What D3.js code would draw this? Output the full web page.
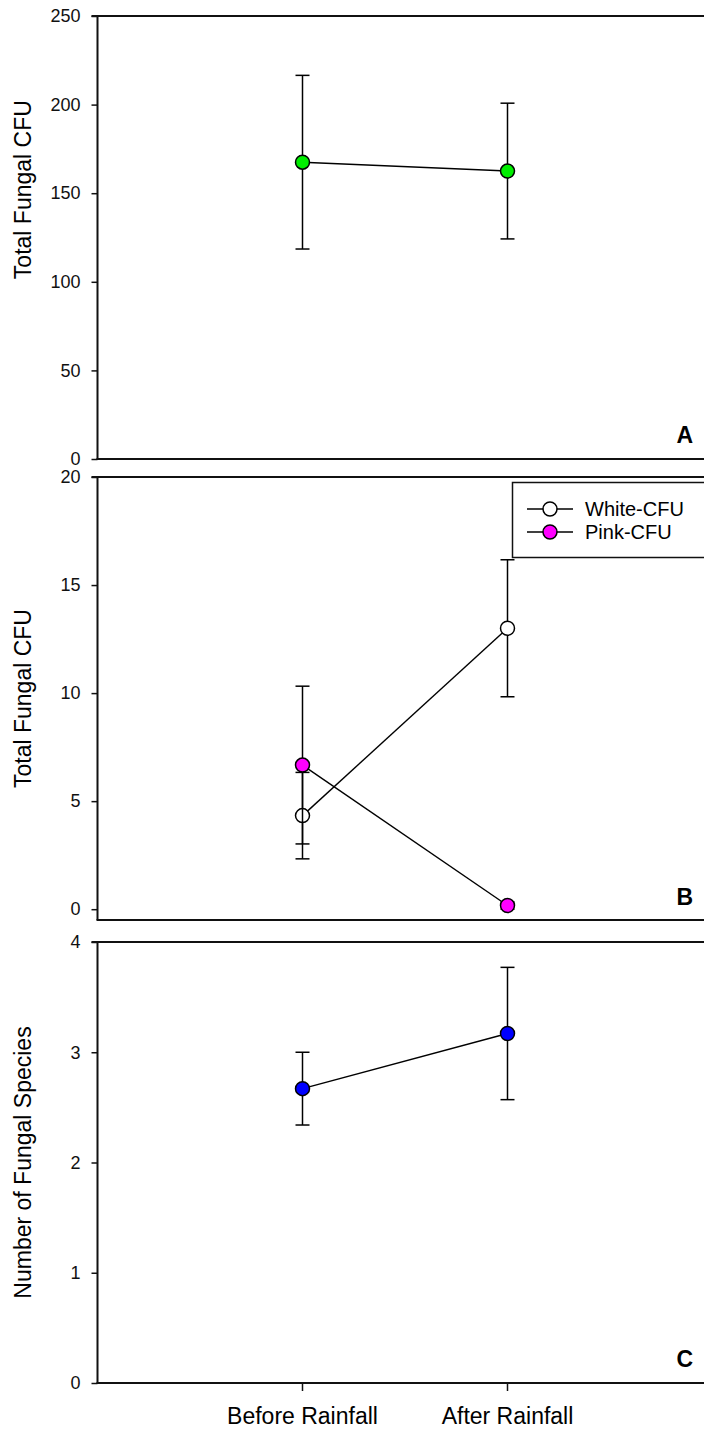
<!DOCTYPE html>
<html>
<head>
<meta charset="utf-8">
<script src="https://cdn.jsdelivr.net/npm/d3@7"></script>
<style>
  html, body { margin: 0; padding: 0; background: #fff; }
  svg { display: block; font-family: Arial, "Liberation Sans", sans-serif; }
</style>
</head>
<body>
<svg id="chart" width="704" height="1429"></svg>
<script>
// Fungal colony counts and species richness before and after a rainfall event
const categories = ["Before Rainfall", "After Rainfall"];

const totalCfuMean = [167.5, 162.5];
const totalCfuSe   = [49.0, 38.3];

const whiteCfuMean = [4.33, 13.0];
const whiteCfuSe   = [2.0, 3.17];
const pinkCfuMean  = [6.67, 0.17];
const pinkCfuSe    = [3.65, 0.17];

const speciesMean  = [2.67, 3.17];
const speciesSe    = [0.33, 0.6];

const ticksA = [0, 50, 100, 150, 200, 250];
const ticksB = [0, 5, 10, 15, 20];
const ticksC = [0, 1, 2, 3, 4];

const legendLabels = ["White-CFU", "Pink-CFU"];

const svg = d3.select("#chart");
const W = 704;

// shared category axis: categories sit at positions 1 and 2 of a 0..3 span
const x = d3.scaleLinear().domain([0, 3]).range([97.5, 712.5]);
const xPos = i => x(i + 1);

function panel(cfg) {
  const y = d3.scaleLinear().domain(cfg.domain).range(cfg.range);
  const g = svg.append("g");

  // left axis with outward ticks
  const ax = g.append("g")
    .attr("transform", `translate(${x(0)},0)`)
    .call(d3.axisLeft(y).tickValues(cfg.ticks).tickSize(6).tickPadding(11).tickFormat(d3.format("d")));
  ax.select(".domain").remove();
  ax.selectAll(".tick line").attr("stroke", "#111").attr("stroke-width", 1.5);
  ax.selectAll(".tick text").attr("font-size", 18).attr("fill", "#111")
    .attr("font-family", "Arial, 'Liberation Sans', sans-serif");

  const top = cfg.range[1], bottom = cfg.range[0];
  // frame: left spine, top line, bottom axis line
  g.append("line").attr("x1", x(0)).attr("x2", x(0)).attr("y1", top).attr("y2", bottom)
    .attr("stroke", "#111").attr("stroke-width", 2);
  g.append("line").attr("x1", x(0) - 6).attr("x2", W).attr("y1", top).attr("y2", top)
    .attr("stroke", "#111").attr("stroke-width", 2);
  g.append("line").attr("x1", x(0) - 1).attr("x2", W).attr("y1", bottom).attr("y2", bottom)
    .attr("stroke", "#111").attr("stroke-width", 2);

  // y axis title, centred on the given data value
  g.append("text")
    .attr("transform", `translate(31,${y(cfg.titleAt)}) rotate(-90)`)
    .attr("text-anchor", "middle")
    .attr("font-size", 23)
    .attr("fill", "#000")
    .text(cfg.title);

  // panel letter
  g.append("text")
    .attr("x", 693).attr("y", cfg.letterY)
    .attr("text-anchor", "end")
    .attr("font-size", 23).attr("font-weight", "bold")
    .attr("fill", "#000")
    .text(cfg.letter);

  cfg.series.forEach(s => {
    const pts = s.mean.map((m, i) => ({ i, m, se: s.se[i] }));
    // connecting line
    g.append("path")
      .datum(pts)
      .attr("fill", "none").attr("stroke", "#000").attr("stroke-width", 1.4)
      .attr("d", d3.line().x(d => xPos(d.i)).y(d => y(d.m)));
    // error bars with caps
    const eb = g.selectAll(null).data(pts).enter().append("g");
    eb.append("line")
      .attr("x1", d => xPos(d.i)).attr("x2", d => xPos(d.i))
      .attr("y1", d => y(d.m - d.se)).attr("y2", d => y(d.m + d.se))
      .attr("stroke", "#000").attr("stroke-width", 1.5);
    [-1, 1].forEach(sgn => {
      eb.append("line")
        .attr("x1", d => xPos(d.i) - 7).attr("x2", d => xPos(d.i) + 7)
        .attr("y1", d => y(d.m + sgn * d.se)).attr("y2", d => y(d.m + sgn * d.se))
        .attr("stroke", "#000").attr("stroke-width", 1.5);
    });
    // markers
    g.selectAll(null).data(pts).enter().append("circle")
      .attr("cx", d => xPos(d.i)).attr("cy", d => y(d.m)).attr("r", 7)
      .attr("fill", s.color).attr("stroke", "#000").attr("stroke-width", 1.5);
  });

  return { g, y };
}

panel({
  domain: [0, 250], range: [459, 16], ticks: ticksA, titleAt: 152,
  title: "Total Fungal CFU", letter: "A", letterY: 443,
  series: [{ mean: totalCfuMean, se: totalCfuSe, color: "#00ee00" }]
});

const pB = panel({
  domain: [-0.5, 20], range: [920, 477], ticks: ticksB, titleAt: 9.75,
  title: "Total Fungal CFU", letter: "B", letterY: 905,
  series: [
    { mean: whiteCfuMean, se: whiteCfuSe, color: "#ffffff" },
    { mean: pinkCfuMean, se: pinkCfuSe, color: "#ff00ff" }
  ]
});

const pC = panel({
  domain: [0, 4], range: [1383, 942], ticks: ticksC, titleAt: 2,
  title: "Number of Fungal Species", letter: "C", letterY: 1367,
  series: [{ mean: speciesMean, se: speciesSe, color: "#0000ff" }]
});

// category ticks and labels under the bottom panel
const xa = svg.append("g").attr("transform", "translate(0,1383)");
categories.forEach((c, i) => {
  xa.append("line").attr("x1", xPos(i)).attr("x2", xPos(i)).attr("y1", 0).attr("y2", 8)
    .attr("stroke", "#111").attr("stroke-width", 1.5);
  xa.append("text").attr("x", xPos(i)).attr("y", 41)
    .attr("text-anchor", "middle").attr("font-size", 23).attr("fill", "#000")
    .text(c);
});

// legend for panel B
const legendColors = ["#ffffff", "#ff00ff"];
const lg = pB.g.append("g");
lg.append("rect").attr("x", 512.5).attr("y", 482.5).attr("width", 260).attr("height", 75)
  .attr("fill", "#fff").attr("stroke", "#111").attr("stroke-width", 1.5);
legendLabels.forEach((lab, i) => {
  const yy = 509 + i * 23;
  lg.append("line").attr("x1", 527).attr("x2", 573).attr("y1", yy).attr("y2", yy)
    .attr("stroke", "#000").attr("stroke-width", 1.4);
  lg.append("circle").attr("cx", 550).attr("cy", yy).attr("r", 7)
    .attr("fill", legendColors[i]).attr("stroke", "#000").attr("stroke-width", 1.5);
  lg.append("text").attr("x", 585).attr("y", yy + 7).attr("font-size", 20).attr("fill", "#000").text(lab);
});
</script>
</body>
</html>
